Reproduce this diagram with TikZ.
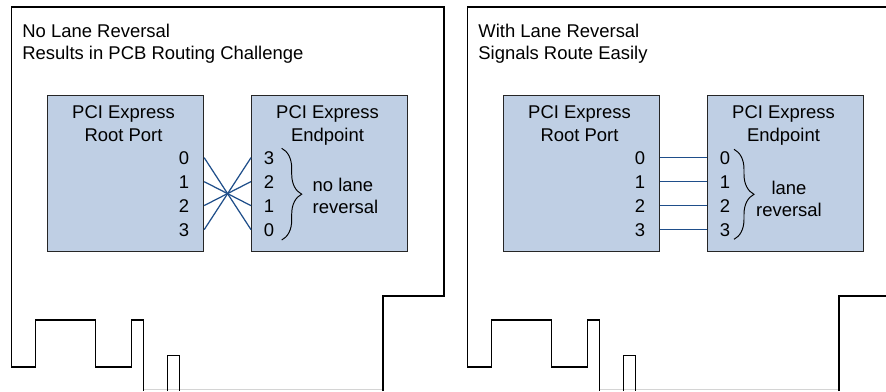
\documentclass[tikz,border=0pt]{standalone}
\usepackage{fontspec}
\setmainfont{Liberation Sans}
\usetikzlibrary{decorations.pathreplacing}

\definecolor{portfill}{HTML}{BFCFE4}
\definecolor{lanecol}{HTML}{1F4E8A}
\definecolor{edgegray}{HTML}{D4D4D4}

\tikzset{
  card/.style={line width=0.75pt, black, line join=miter},
  port/.style={draw=black!85, fill=portfill, line width=0.55pt,
    minimum width=31.2mm, minimum height=31.06mm, inner sep=0pt},
  txt/.style={font=\fontsize{10.5}{12.5}\selectfont, inner sep=0pt},
  head/.style={txt, font=\fontsize{10.5}{12.9}\selectfont, anchor=north, align=center},
  lane/.style={lanecol, line width=0.7pt},
  lanebrace/.style={decorate, decoration={brace, amplitude=4mm}, line width=0.55pt},
}

\begin{document}
\begin{tikzpicture}[x=0.2mm, y=-0.2mm]
\useasboundingbox (0,0) rectangle (886,391);

% the two add-in cards
\foreach \dx in {0,456} {
  \begin{scope}[shift={(\dx,0)}]
    \draw[edgegray, line width=0.6pt] (143.5,389.5) -- (383,389.5);
    \draw[card] (383,391) -- (383,296) -- (444,296) -- (444,7) -- (11.5,7)
      -- (11.5,367) -- (35.5,367) -- (35.5,320) -- (95.5,320) -- (95.5,367)
      -- (131.5,367) -- (131.5,320) -- (143.5,320) -- (143.5,391);
    \draw[card] (167.5,391) -- (167.5,355.5) -- (179.5,355.5) -- (179.5,391);
  \end{scope}
}

% left: no lane reversal
\node[txt, anchor=north west, align=left] (titleA) at (22,24)
  {No Lane Reversal\\Results in PCB Routing Challenge};
\node[port] (rootA) at (125.7,173.4) {};
\node[port] (endA) at (329.5,173.4) {};
\node[head] (rootAname) at (123.5,105.5) {PCI Express\\Root Port};
\node[head] (endAname) at (327.5,105.5) {PCI Express\\Endpoint};
\foreach \i in {0,...,3} {
  \node[txt, anchor=base east] (rA\i) at (189.5,{164+24*\i}) {\i};
  \node[txt, anchor=base west] (eA\i) at (263.5,{164+24*(3-\i)}) {\i};
  \draw[lane] (rA\i -| rootA.east) -- (eA\i -| endA.west);
}
\draw[lanebrace] (281.7,148.3) -- (281.7,240);
\node[txt, anchor=west, align=left] (noteA) at (312.3,196) {no lane\\reversal};

% right: with lane reversal
\node[txt, anchor=north west, align=left] (titleB) at (478,24)
  {With Lane Reversal\\Signals Route Easily};
\node[port] (rootB) at (581.5,173.4) {};
\node[port] (endB) at (785.5,173.4) {};
\node[head] (rootBname) at (579.5,105.5) {PCI Express\\Root Port};
\node[head] (endBname) at (783.5,105.5) {PCI Express\\Endpoint};
\foreach \i in {0,...,3} {
  \node[txt, anchor=base east] (rB\i) at (645.5,{164+24*\i}) {\i};
  \node[txt, anchor=base west] (eB\i) at (719.5,{164+24*\i}) {\i};
  \draw[lane] (rB\i -| rootB.east) -- (eB\i -| endB.west);
}
\draw[lanebrace] (734,149.3) -- (734,239.3);
\node[txt, align=center] (noteB) at (789,199.2) {lane\\reversal};
\end{tikzpicture}
\end{document}
